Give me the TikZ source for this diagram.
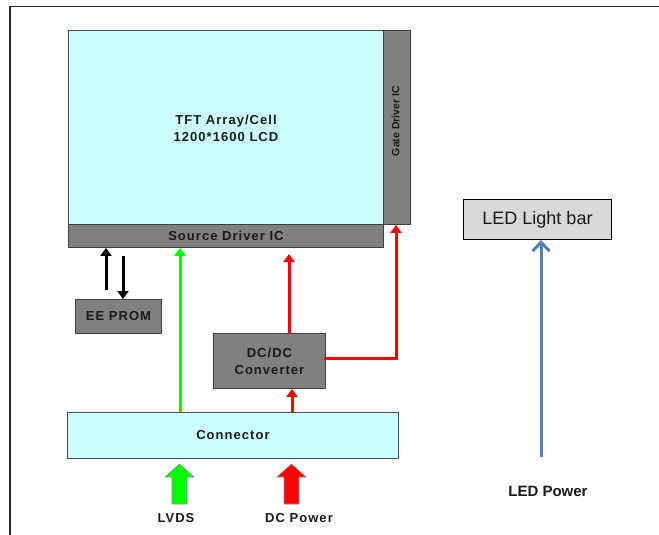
\documentclass[tikz,border=0pt]{standalone}
\usepackage{fontspec}
\setmainfont{Liberation Sans}
\usetikzlibrary{arrows.meta}
\definecolor{panelcyan}{HTML}{CCFFFF}
\definecolor{icgray}{HTML}{808080}
\definecolor{barbg}{HTML}{D9D9D9}
\definecolor{ledblue}{HTML}{4F81BD}
\definecolor{sigred}{HTML}{FF0000}
\definecolor{siggreen}{HTML}{00FF00}
\tikzset{
  cyanbox/.style={draw=black!70, line width=0.9pt, fill=panelcyan, inner sep=0pt},
  graybox/.style={draw=black!75, line width=0.9pt, fill=icgray, inner sep=0pt},
  lbl/.style={font=\fontsize{13}{17}\selectfont\bfseries\addfontfeatures{LetterSpace=8}, text=black!90},
  sig/.style={line width=3pt, -{Triangle[length=8pt,width=11pt]}},
  blockarrow/.style={draw=black!45, line width=0.6pt},
}
\begin{document}
\begin{tikzpicture}[x=1pt,y=-1pt]
\useasboundingbox (0,0) rectangle (659,535);
% frame
\draw[line width=1.8pt, black!85] (10,535) -- (10,6.5) -- (659,6.5);
% panel
\node[cyanbox, minimum width=315pt, minimum height=194pt, anchor=north west] (panel) at (68,30) {};
\node[lbl, align=center] (paneltext) at (226,128.5) {TFT Array/Cell\\1200*1600 LCD};
\node[graybox, minimum width=27pt, minimum height=194pt, anchor=north west] (gate) at (383,30) {};
\node[font=\fontsize{10.5}{13}\selectfont\bfseries, text=black!90, rotate=90] (gatetext) at (395.5,121) {Gate Driver IC};
\node[graybox, minimum width=315pt, minimum height=23pt, anchor=north west, lbl] (source) at (68,224) {Source Driver IC};
% EE PROM
\node[graybox, minimum width=86pt, minimum height=34pt, anchor=north west, lbl] (eeprom) at (75,299) {EE PROM};
% DC/DC
\node[graybox, minimum width=112pt, minimum height=55pt, anchor=north west, lbl, align=center] (dcdc) at (213,333) {DC/DC\\Converter};
% Connector
\node[cyanbox, minimum width=331pt, minimum height=46pt, anchor=north west, lbl] (conn) at (67,412) {Connector};
% LED light bar
\node[draw=black, line width=1pt, fill=barbg, minimum width=148pt, minimum height=40pt, anchor=north west, font=\fontsize{18}{20}\selectfont, inner sep=0pt, text=black!90] (led) at (463,199) {LED Light bar};
% labels
\node[lbl] (lvds) at (176,518) {LVDS};
\node[lbl] (dcpow) at (299,518) {DC Power};
\node[font=\fontsize{15}{17}\selectfont\bfseries, text=black!90] (ledpow) at (548,491) {LED Power};
% coordinates
\coordinate (eeup) at (106,290);
\coordinate (eedn) at (123,256);
\coordinate (gsrc) at (180,412);
\coordinate (rsrc) at (289,333);
\coordinate (rdc) at (292,412);
\coordinate (corner) at (396,358);
\coordinate (ledsrc) at (541,457);
% black arrows EEPROM
\draw[sig, black] (eeup) -- (eeup|-source.south);
\draw[sig, black] (eedn) -- (eedn|-eeprom.north);
% green LVDS line
\draw[sig, siggreen] (gsrc) -- (gsrc|-source.south);
% red DC/DC to source
\draw[sig, sigred] (rsrc) -- (289,254);
% red conn to DC/DC
\draw[sig, sigred] (rdc) -- (rdc|-dcdc.south);
% red DC/DC to gate
\draw[line width=3pt, sigred, line cap=rect] (dcdc.east|-corner) -- (corner);
\draw[sig, sigred] (corner) -- (corner|-gate.south);
% LED arrow
\draw[line width=3pt, ledblue, -{Straight Barb[length=9pt,width=17pt,line width=3pt]}] (ledsrc) -- (ledsrc|-led.south);
% block arrows
\draw[blockarrow, fill=siggreen] (172,504) -- (172,477) -- (165,477) -- (179.5,464) -- (194,477) -- (187,477) -- (187,504) -- cycle;
\draw[blockarrow, fill=sigred] (284,504) -- (284,477) -- (277,477) -- (291.5,464) -- (306,477) -- (299,477) -- (299,504) -- cycle;
\end{tikzpicture}
\end{document}
